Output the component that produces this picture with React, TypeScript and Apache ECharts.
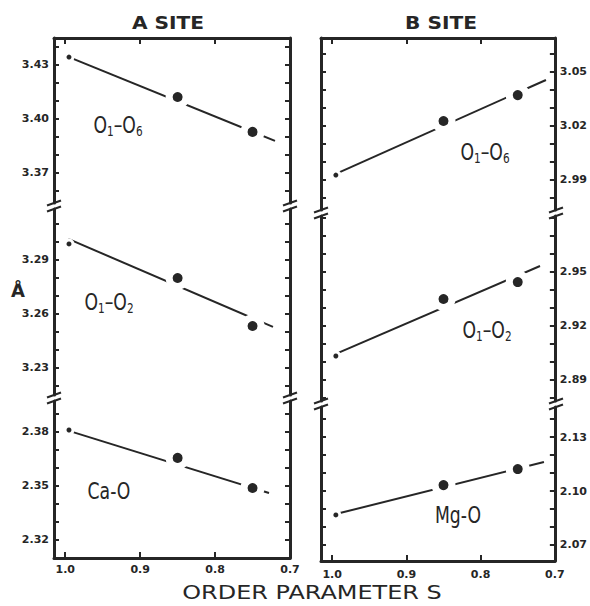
import React, { useEffect, useRef } from "react";
import * as echarts from "echarts";

// ---- data ----
const S_VALUES = [0.995, 0.85, 0.75];

const A_O1O6 = [3.4344, 3.4122, 3.3928];
const A_O1O2 = [3.2989, 3.28, 3.2533];
const A_CAO = [2.3811, 2.3656, 2.3489];
const B_O1O6 = [2.9925, 3.0225, 3.0369];
const B_O1O2 = [2.9033, 2.935, 2.9444];
const B_MGO = [2.0867, 2.1033, 2.1122];

// fitted lines: [S, value] at start and end
const A_O1O6_FIT = [[0.995, 3.4344], [0.72, 3.3878]];
const A_O1O2_FIT = [[0.996, 3.3017], [0.7227, 3.2528]];
const A_CAO_FIT = [[0.995, 2.3806], [0.728, 2.3461]];
const B_O1O6_FIT = [[0.995, 2.9932], [0.712, 3.0453]];
const B_O1O2_FIT = [[0.995, 2.9045], [0.72, 2.9533]];
const B_MGO_FIT = [[0.995, 2.0872], [0.7147, 2.1161]];

// axis ranges
const X_RANGE = [0.7, 1.015];
const Y_RANGES = [
  [3.3533, 3.445],
  [3.215, 3.3183],
  [2.31, 2.3972],
  [2.9731, 3.0686],
  [2.8783, 2.9811],
  [2.0611, 2.1467],
];

// tick labels / tick marks
const X_LABELS = [1.0, 0.9, 0.8, 0.7];
const X_TICKS = [1.0, 0.9, 0.8];
const Y_LABELS = [
  [3.37, 3.4, 3.43],
  [3.23, 3.26, 3.29],
  [2.32, 2.35, 2.38],
  [2.99, 3.02, 3.05],
  [2.89, 2.92, 2.95],
  [2.07, 2.1, 2.13],
];
const Y_TICKS = [
  [3.36, 3.37, 3.38, 3.39, 3.4, 3.41, 3.42, 3.43, 3.44],
  [3.22, 3.23, 3.24, 3.25, 3.26, 3.27, 3.28, 3.29, 3.3, 3.31],
  [2.32, 2.33, 2.34, 2.35, 2.36, 2.37, 2.38, 2.39],
  [2.98, 2.99, 3.0, 3.01, 3.02, 3.03, 3.04, 3.05, 3.06],
  [2.88, 2.89, 2.9, 2.91, 2.92, 2.93, 2.94, 2.95, 2.96, 2.97, 2.98],
  [2.07, 2.08, 2.09, 2.1, 2.11, 2.12, 2.13, 2.14],
];

const PANEL_POINTS = [A_O1O6, A_O1O2, A_CAO, B_O1O6, B_O1O2, B_MGO];
const PANEL_FITS = [A_O1O6_FIT, A_O1O2_FIT, A_CAO_FIT, B_O1O6_FIT, B_O1O2_FIT, B_MGO_FIT];

const INK = "#262626";
const FONT = "DejaVu Sans";

const GRIDS = [
  { left: 54, top: 38, width: 236, height: 165 },
  { left: 54, top: 209, width: 236, height: 186 },
  { left: 54, top: 401, width: 236, height: 157 },
  { left: 321, top: 38, width: 235, height: 172 },
  { left: 321, top: 216, width: 235, height: 185 },
  { left: 321, top: 407, width: 235, height: 154 },
];

function breakMarks(x: number, yb: number) {
  const out: any[] = [];
  [yb - 3, yb + 3].forEach((y) => {
    out.push({
      type: "line",
      shape: { x1: x - 7, y1: y + 2.5, x2: x + 7, y2: y - 2.5 },
      style: { stroke: INK, lineWidth: 2 },
      z: 10,
    });
  });
  return out;
}

function label(text: string, x: number, y: number) {
  return {
    type: "text",
    x,
    y,
    scaleX: 0.75,
    z: 10,
    style: {
      text,
      align: "center",
      verticalAlign: "middle",
      fill: INK,
      fontFamily: FONT,
      fontSize: 23,
      rich: {
        n: { fontSize: 23, fontFamily: FONT, fill: INK },
        s: { fontSize: 14, fontFamily: FONT, fill: INK, padding: [12, 0, 0, 0] },
      },
    },
  };
}

export default function App() {
  const ref = useRef<HTMLDivElement>(null);
  useEffect(() => {
    if (!ref.current) return;
    const chart = echarts.init(ref.current, undefined, { renderer: "svg" });

    const xAxis: any[] = GRIDS.map((_, i) => {
      const pos = i % 3 === 0 ? "top" : "bottom";
      const visible = i % 3 !== 1;
      return {
        type: "value",
        gridIndex: i,
        min: X_RANGE[0],
        max: X_RANGE[1],
        inverse: true,
        position: pos,
        show: visible,
        splitLine: { show: false },
        axisLine: { show: true, lineStyle: { color: INK, width: 3 } },
        axisTick: {
          show: true,
          inside: true,
          length: 6,
          customValues: X_TICKS,
          lineStyle: { color: INK, width: 2 },
        },
        axisLabel: {
          show: i % 3 === 2,
          customValues: X_LABELS,
          formatter: (v: number) => v.toFixed(1),
          color: INK,
          fontFamily: FONT,
          fontWeight: "bold",
          fontSize: 11,
          margin: i === 5 ? 8 : 6,
        },
      };
    });

    const yAxis: any[] = [];
    GRIDS.forEach((_, i) => {
      const leftPanel = i < 3;
      ["left", "right"].forEach((side) => {
        const showLabels = (leftPanel && side === "left") || (!leftPanel && side === "right");
        yAxis.push({
          type: "value",
          gridIndex: i,
          position: side,
          min: Y_RANGES[i][0],
          max: Y_RANGES[i][1],
          splitLine: { show: false },
          axisLine: { show: true, lineStyle: { color: INK, width: 3 } },
          axisTick: {
            show: true,
            inside: true,
            length: 5,
            customValues: Y_TICKS[i],
            lineStyle: { color: INK, width: 2 },
          },
          axisLabel: {
            show: showLabels,
            customValues: Y_LABELS[i],
            formatter: (v: number) => v.toFixed(2),
            color: INK,
            fontFamily: FONT,
            fontWeight: "bold",
            fontSize: 11,
            margin: 5,
          },
        });
      });
    });

    const series: any[] = [];
    GRIDS.forEach((_, i) => {
      series.push({
        type: "line",
        xAxisIndex: i,
        yAxisIndex: i * 2,
        data: PANEL_FITS[i],
        symbol: "none",
        lineStyle: { color: INK, width: 2 },
        z: 2,
        silent: true,
      });
      series.push({
        type: "scatter",
        xAxisIndex: i,
        yAxisIndex: i * 2,
        data: S_VALUES.map((s, k) => ({
          value: [s, PANEL_POINTS[i][k]],
          itemStyle: { borderWidth: k === 0 ? 3 : 7 },
        })),
        symbol: "circle",
        symbolSize: (_v: any, p: any) => (p.dataIndex === 0 ? 8 : 17),
        itemStyle: { color: INK, borderColor: "#ffffff", borderWidth: 3, opacity: 1 },
        z: 3,
        silent: true,
      });
    });

    const graphic: any[] = [
      ...breakMarks(54, 206),
      ...breakMarks(290, 206),
      ...breakMarks(54, 398),
      ...breakMarks(290, 398),
      ...breakMarks(321, 213),
      ...breakMarks(556, 213),
      ...breakMarks(321, 404),
      ...breakMarks(556, 404),
      {
        type: "text",
        x: 168,
        y: 23,
        scaleX: 1.12,
        style: { text: "A SITE", align: "center", verticalAlign: "middle", fill: INK, fontFamily: FONT, fontWeight: "bold", fontSize: 18 },
      },
      {
        type: "text",
        x: 441,
        y: 23,
        scaleX: 1.12,
        style: { text: "B SITE", align: "center", verticalAlign: "middle", fill: INK, fontFamily: FONT, fontWeight: "bold", fontSize: 18 },
      },
      {
        type: "text",
        x: 18,
        y: 290,
        style: { text: "Å", align: "center", verticalAlign: "middle", fill: INK, fontFamily: FONT, fontWeight: "bold", fontSize: 18 },
      },
      {
        type: "text",
        x: 312,
        y: 592,
        scaleX: 1.26,
        style: { text: "ORDER PARAMETER S", align: "center", verticalAlign: "middle", fill: INK, fontFamily: FONT, fontSize: 19 },
      },
      label("{n|O}{s|1}{n|–O}{s|6}", 118, 125),
      label("{n|O}{s|1}{n|–O}{s|2}", 109, 302),
      label("{n|Ca-O}", 109, 491),
      label("{n|O}{s|1}{n|–O}{s|6}", 485, 152),
      label("{n|O}{s|1}{n|–O}{s|2}", 487, 330),
      label("{n|Mg-O}", 458, 515),
    ];

    chart.setOption({
      animation: false,
      backgroundColor: "#fff",
      grid: GRIDS.map((g) => ({ ...g, containLabel: false })),
      xAxis,
      yAxis,
      series,
      graphic,
    });
    return () => chart.dispose();
  }, []);
  return (
    <div
      ref={ref}
      style={{ position: "fixed", left: 0, top: 0, width: 590, height: 606, background: "#fff" }}
    />
  );
}
